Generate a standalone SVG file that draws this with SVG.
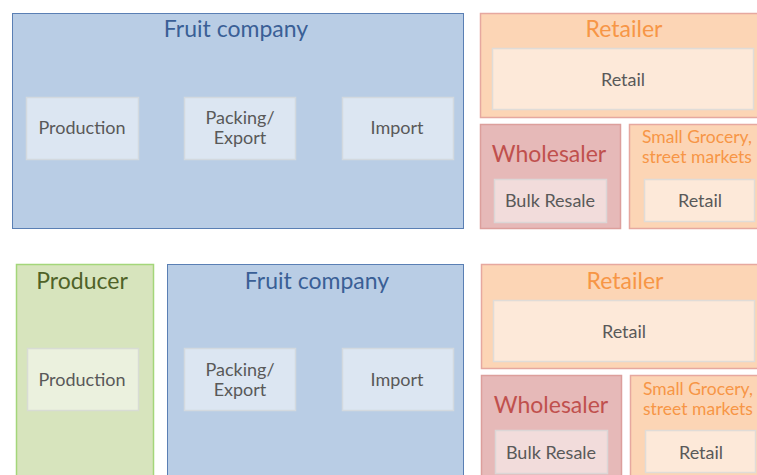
<svg xmlns="http://www.w3.org/2000/svg" width="757" height="475" viewBox="0 0 757 475">
<style>
text{font-family:Lato,"Liberation Sans",sans-serif}
.t{text-anchor:middle;font-size:23px}
.l{text-anchor:middle;font-size:18px;fill:#595959}
.blue{fill:#b9cde5;stroke:#5a7fb4;stroke-width:1}
.bin{fill:#dce6f2;stroke:#d3d9df;stroke-width:1.5}
.ret{fill:#fcd5b5;stroke:#e6a89f;stroke-width:1.5}
.rin{fill:#fde9d9;stroke:#e0dcd8;stroke-width:1.5}
.who{fill:#e6b9b8;stroke:#dc9f9c;stroke-width:1.5}
.win{fill:#f2dcdb;stroke:#dcd6d6;stroke-width:1.5}
.pro{fill:#d7e4bd;stroke:#a4d67a;stroke-width:1.5}
.pin{fill:#ebf1de;stroke:#d8dcd4;stroke-width:1.5}
.tb{fill:#3a5f96}.to{fill:#f79646}.tr{fill:#c0504d}.tg{fill:#4f6228}
.s{font-size:17.5px;fill:#f79646}
</style>
<rect width="757" height="475" fill="#ffffff"/>
<g id="fruit-company-1">
<rect class="blue" x="12.5" y="13.5" width="451" height="215"/>
<text class="t tb" x="236" y="37">Fruit company</text>
</g>
<g id="production-1"><rect class="bin" x="26.5" y="97.5" width="112" height="62"/><text class="l" x="82" y="134">Production</text></g>
<g id="packing-1"><rect class="bin" x="184.5" y="97.5" width="111" height="62"/><text class="l" x="240" y="124">Packing/</text><text class="l" x="240" y="144">Export</text></g>
<g id="import-1"><rect class="bin" x="342.5" y="97.5" width="111" height="62"/><text class="l" x="397" y="134">Import</text></g>
<g id="retailer-1"><rect class="ret" x="480.5" y="13.5" width="290" height="104"/><text class="t to" x="624" y="37">Retailer</text></g>
<g id="retail-1"><rect class="rin" x="492.5" y="48.5" width="261" height="61"/><text class="l" x="623" y="86">Retail</text></g>
<g id="wholesaler-1"><rect class="who" x="480.5" y="124.5" width="140" height="104"/><text class="t tr" x="549" y="162">Wholesaler</text></g>
<g id="bulk-1"><rect class="win" x="494.5" y="179.5" width="112" height="43"/><text class="l" x="550" y="207">Bulk Resale</text></g>
<g id="grocery-1"><rect class="ret" x="629.5" y="124.5" width="140" height="104"/><text class="s" x="642" y="143">Small Grocery,</text><text class="s" x="642" y="163">street markets</text></g>
<g id="retail-2"><rect class="rin" x="644.5" y="179.5" width="110" height="42"/><text class="l" x="700" y="207">Retail</text></g>
<g id="producer-2"><rect class="pro" x="16.5" y="264.5" width="137" height="220"/><text class="t tg" x="82" y="289">Producer</text></g>
<g id="production-2"><rect class="pin" x="27.5" y="348.5" width="111" height="62"/><text class="l" x="82" y="386">Production</text></g>
<g id="fruit-company-2"><rect class="blue" x="167.5" y="264.5" width="296" height="220"/><text class="t tb" x="317" y="289">Fruit company</text></g>
<g id="packing-2"><rect class="bin" x="184.5" y="348.5" width="111" height="62"/><text class="l" x="240" y="376">Packing/</text><text class="l" x="240" y="396">Export</text></g>
<g id="import-2"><rect class="bin" x="342.5" y="348.5" width="111" height="62"/><text class="l" x="397" y="386">Import</text></g>
<g id="retailer-3"><rect class="ret" x="481.5" y="264.5" width="290" height="104"/><text class="t to" x="625" y="289">Retailer</text></g>
<g id="retail-3"><rect class="rin" x="493.5" y="300.5" width="261" height="61"/><text class="l" x="624" y="338">Retail</text></g>
<g id="wholesaler-3"><rect class="who" x="481.5" y="375.5" width="140" height="110"/><text class="t tr" x="551" y="413">Wholesaler</text></g>
<g id="bulk-3"><rect class="win" x="495.5" y="430.5" width="112" height="43"/><text class="l" x="551" y="459">Bulk Resale</text></g>
<g id="grocery-3"><rect class="ret" x="630.5" y="375.5" width="140" height="110"/><text class="s" x="643" y="395">Small Grocery,</text><text class="s" x="643" y="415">street markets</text></g>
<g id="retail-4"><rect class="rin" x="645.5" y="430.5" width="110" height="42"/><text class="l" x="701" y="459">Retail</text></g>
<g id="connectors"></g>
</svg>
